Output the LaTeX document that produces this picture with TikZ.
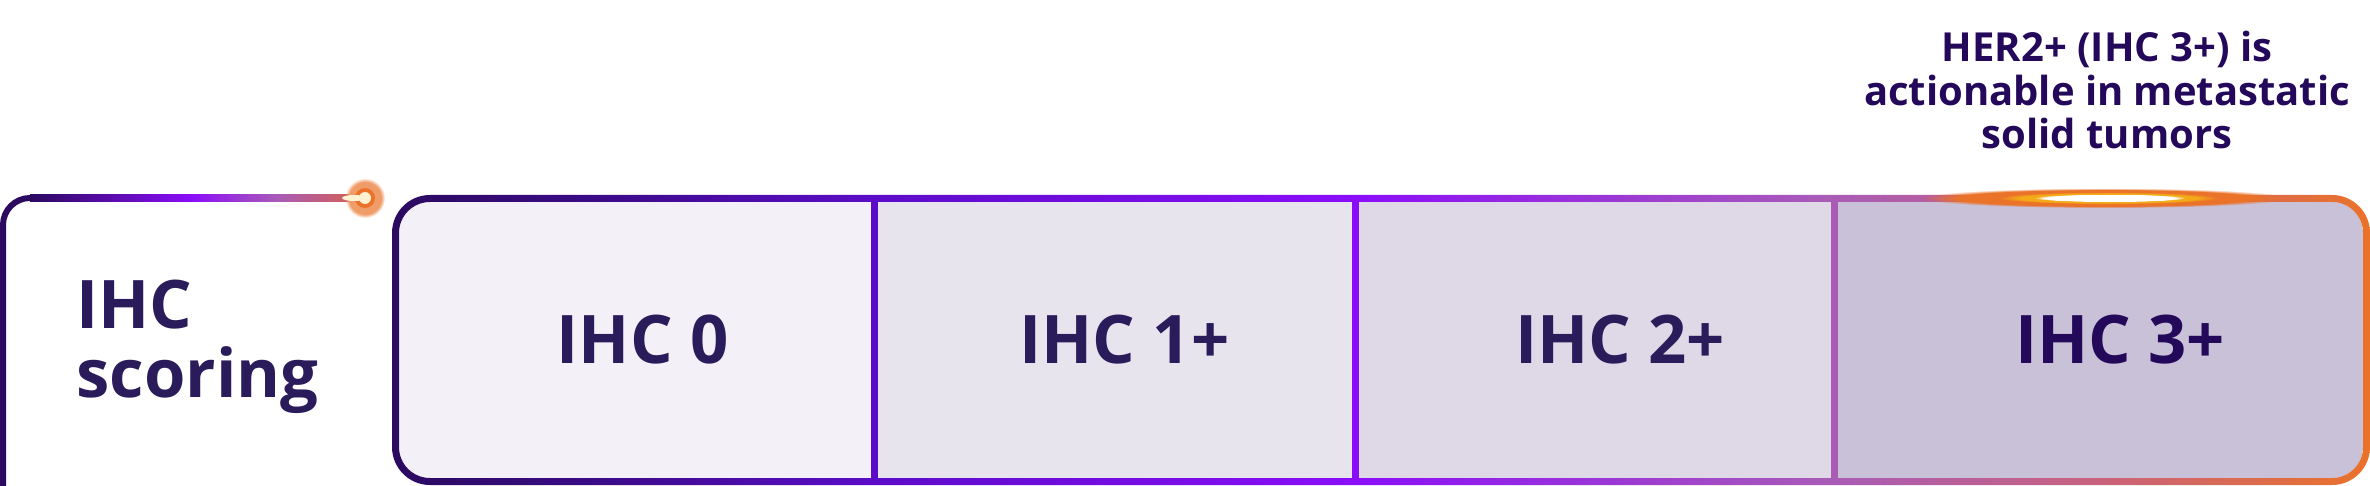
\documentclass[tikz,border=0pt]{standalone}
\usepackage{fontspec}
\setmainfont{Open Sans}
\usetikzlibrary{positioning,fadings}

\definecolor{navy}{HTML}{2B0A5F}
\definecolor{ink}{HTML}{2A1C5B}
\definecolor{annot}{HTML}{24095B}
\definecolor{deep}{HTML}{3A0B86}
\definecolor{purp}{HTML}{5C0CC8}
\definecolor{viol}{HTML}{8A0DF9}
\definecolor{mauve}{HTML}{A95CB6}
\definecolor{rose}{HTML}{C8627E}
\definecolor{orng}{HTML}{EA7229}
\definecolor{ember}{HTML}{D8604A}
\definecolor{cellA}{HTML}{F3F1F7}
\definecolor{cellB}{HTML}{E8E4EE}
\definecolor{cellC}{HTML}{DFD8E7}
\definecolor{cellD}{HTML}{C9C1D8}
\definecolor{spark}{HTML}{FFF2D2}

\pgfdeclarehorizontalshading{barrim}{100bp}{color(0bp)=(navy); color(25bp)=(navy);
    color(30bp)=(deep); color(37.2bp)=(purp); color(49.3bp)=(viol);
    color(61.4bp)=(mauve); color(68bp)=(rose); color(75bp)=(orng); color(100bp)=(orng)}
\pgfdeclarehorizontalshading{railtop}{100bp}{color(0bp)=(navy); color(25bp)=(navy);
    color(48.9bp)=(viol); color(62bp)=(mauve); color(75bp)=(ember); color(100bp)=(ember)}

\begin{document}
\begin{tikzpicture}[
    x=0.5pt, y=-0.5pt,
    cell/.style={rectangle, inner sep=0pt, outer sep=0pt, minimum height=138pt},
    score/.style={inner sep=0pt, text=ink, font=\fontsize{33.5}{34.5}\selectfont\bfseries},
    divider/.style={line width=3.5pt},
    note/.style={align=center, inner sep=0pt, text=annot,
                 font=\fontsize{20}{21.75}\selectfont\bfseries}
]
    \useasboundingbox (0,0) rectangle (2370,486);

    % Scoring box on the left
    \draw[navy, line width=3pt, rounded corners=13.5pt] (3,500) |- (40,198);
    \shade[shading=railtop] (30,194.5) rectangle (365,201.5);
    \node (scoring) [score, anchor=north west, align=left] at (76,280) {IHC\\scoring};

    % Score cells
    \begin{scope}
        \clip[rounded corners=15.5pt] (399,202) rectangle (2363,478);
        \node (ihc0) [cell, fill=cellA, minimum width=237.5pt, anchor=west] at (399,340) {};
        \node (ihc1) [cell, fill=cellB, minimum width=240.5pt, right=0pt of ihc0] {};
        \node (ihc2) [cell, fill=cellC, minimum width=239.5pt, right=0pt of ihc1] {};
        \node (ihc3) [cell, fill=cellD, minimum width=264.5pt, right=0pt of ihc2] {};
    \end{scope}

    % Rim and dividers
    \shade[shading=barrim, even odd rule, rounded corners=19pt]
        (392,195) rectangle (2370,485) [rounded corners=15.5pt] (399,202) rectangle (2363,478);
    \draw [divider, purp] (ihc0.north east) -- (ihc0.south east);
    \draw [divider, viol] (ihc1.north east) -- (ihc1.south east);
    \draw [divider, mauve] (ihc2.north east) -- (ihc2.south east);

    % Labels
    \node (lbl0) [score] at ([xshift=3pt]ihc0.center) {IHC 0};
    \node (lbl1) [score] at ([xshift=5pt]ihc1.center) {IHC 1+};
    \node (lbl2) [score] at ([xshift=12.75pt]ihc2.center) {IHC 2+};
    \node (lbl3) [score, text=annot] at ([xshift=10.75pt]ihc3.center) {IHC 3+};

    % Glows
    \fill[orng, path fading=circle with fuzzy edge 20 percent] (2105,198) ellipse (92pt and 5pt);
    \fill[orng!60!yellow, path fading=circle with fuzzy edge 20 percent] (2108,198) ellipse (55pt and 3pt);
    \fill[white, path fading=circle with fuzzy edge 15 percent] (2110,198) ellipse (38pt and 2pt);
    \fill[orng!70, path fading=circle with fuzzy edge 20 percent] (365,198) circle (10pt);
    \fill[orng] (365,198) circle (5pt);
    \fill[spark] (354,198) ellipse (6pt and 1.5pt);
    \fill[spark] (365,198) circle (3pt);

    % Note above IHC 3+
    \node (her2) [note, anchor=north] at (2107,31) {HER2+ (IHC 3+) is\\actionable in metastatic\\solid tumors};
\end{tikzpicture}
\end{document}
